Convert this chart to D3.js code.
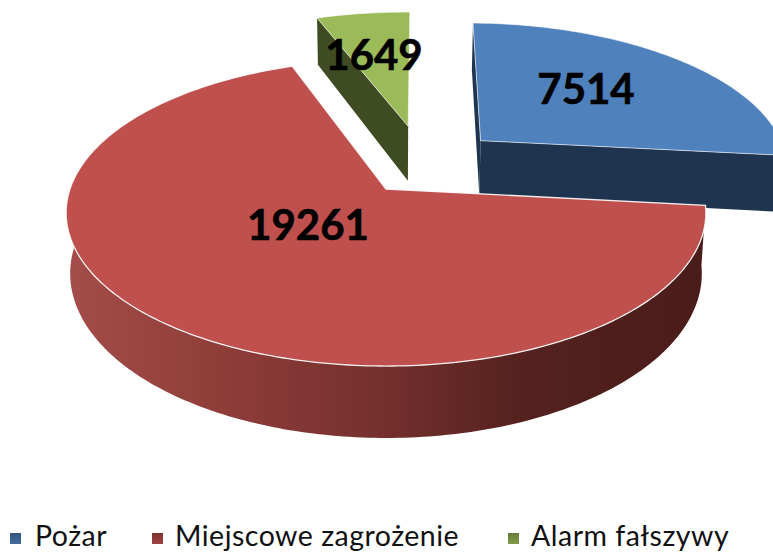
<!DOCTYPE html>
<html><head><meta charset="utf-8">
<script src="https://cdn.jsdelivr.net/npm/d3@7/dist/d3.min.js"></script>
<style>html,body{margin:0;padding:0;background:#fff;overflow:hidden}svg{display:block}</style>
</head><body><svg id="c" width="773" height="552"></svg>
<script>
const categories = ["Pożar", "Miejscowe zagrożenie", "Alarm fałszywy"];
const values = [7514, 19261, 1649];
const topColors = ["#4f81bd", "#bf504d", "#9bbb59"];
const sideColors = ["#1f344e", "#a5504d", "#3f4b22"];
const legendX = [10, 152, 508];
const legendTextX = [35, 175, 531];
const pullU = [0.315, 0, 0.075];
const pullV = [0.34, 0, 0.448];
const labelPos = [[586, 104], [308, 240], [374, 70]];

const svg = d3.select("#c");
const cx = 386, k = 0.155, rotation = 1 * Math.PI / 180;
const topPlane = {R: 316, H: 149.6, cy: 189};
const botPlane = {R: 312, H: 160.5, cy: 248};
function project(plane, u, v) {
  const d = 1 + k * v;
  return [cx + plane.R * u / d, plane.cy - plane.H * v / d];
}
const pie = d3.pie().sort(null).value(d => d).startAngle(rotation).endAngle(2 * Math.PI + rotation);
const arcs = pie(values);
const line = d3.line();
function rim(plane, a0, a1, du, dv) {
  const n = Math.max(2, Math.ceil(Math.abs(a1 - a0) * 60));
  return d3.range(n + 1).map(i => {
    const a = a0 + (a1 - a0) * i / n;
    return project(plane, Math.sin(a) + du, Math.cos(a) + dv);
  });
}
const defs = svg.append("defs");
const grad = defs.append("linearGradient").attr("id", "redSide")
  .attr("gradientUnits", "userSpaceOnUse").attr("x1", 66).attr("x2", 706).attr("y1", 0).attr("y2", 0);
[[0, "#a44d4a"], [0.25, "#8f3c39"], [0.5, "#73302d"], [0.72, "#54211e"], [1, "#4a1c1a"]]
  .forEach(s => grad.append("stop").attr("offset", s[0]).attr("stop-color", s[1]));
categories.forEach((c, i) => {
  const g = defs.append("linearGradient").attr("id", "leg" + i).attr("x1", 0).attr("x2", 0).attr("y1", 0).attr("y2", 1);
  const base = d3.color(topColors[i]);
  g.append("stop").attr("offset", 0).attr("stop-color", base.darker(1.2));
  g.append("stop").attr("offset", 1).attr("stop-color", base.darker(0.5));
});

function drawSlice(i) {
  const a = arcs[i], du = pullU[i], dv = pullV[i];
  const g = svg.append("g");
  const apexT = project(topPlane, du, dv), apexB = project(botPlane, du, dv);
  if (i === 1) {
    const front = rim(topPlane, a.startAngle, Math.PI * 1.55, du, dv);
    const back = rim(botPlane, a.startAngle, Math.PI * 1.55, du, dv).reverse();
    g.append("path").attr("d", line(front.concat(back)) + "Z").attr("fill", "url(#redSide)");
  } else {
    const o0T = project(topPlane, Math.sin(a.startAngle) + du, Math.cos(a.startAngle) + dv);
    const o0B = project(botPlane, Math.sin(a.startAngle) + du, Math.cos(a.startAngle) + dv);
    g.append("path").attr("d", line([apexT, o0T, o0B, apexB]) + "Z").attr("fill", sideColors[i]);
    if (i === 0) {
      const o1T = project(topPlane, Math.sin(a.endAngle) + du, Math.cos(a.endAngle) + dv);
      const o1B = project(botPlane, Math.sin(a.endAngle) + du, Math.cos(a.endAngle) + dv);
      g.append("path").attr("d", line([apexT, o1T, o1B, apexB]) + "Z").attr("fill", sideColors[i]);
    }
  }
  const top = [apexT].concat(rim(topPlane, a.startAngle, a.endAngle, du, dv));
  g.append("path").attr("d", line(top) + "Z").attr("fill", topColors[i])
    .attr("stroke", "#fff").attr("stroke-opacity", i === 1 ? 0.9 : 0.6).attr("stroke-width", i === 1 ? 1.3 : 1);
}
[2, 0, 1].forEach(drawSlice);

svg.selectAll("text.val").data(values).join("text").attr("class", "val")
  .attr("x", (d, i) => labelPos[i][0]).attr("y", (d, i) => labelPos[i][1])
  .attr("text-anchor", "middle").attr("font-family", "Lato, 'Open Sans', sans-serif")
  .attr("font-weight", 700).attr("font-size", 42).attr("fill", "#000")
  .attr("stroke", "#000").attr("stroke-width", 0.6).text(d => d);

const leg = svg.selectAll("g.leg").data(categories).join("g").attr("class", "leg");
leg.append("rect").attr("x", (d, i) => legendX[i]).attr("y", 533).attr("width", 11).attr("height", 11)
  .attr("fill", (d, i) => `url(#leg${i})`);
leg.append("text").attr("x", (d, i) => legendTextX[i]).attr("y", 546)
  .attr("font-family", "Lato, 'Open Sans', sans-serif").attr("font-size", 28.5).attr("fill", "#111")
  .attr("letter-spacing", 0.5).text(d => d);
</script></body></html>
